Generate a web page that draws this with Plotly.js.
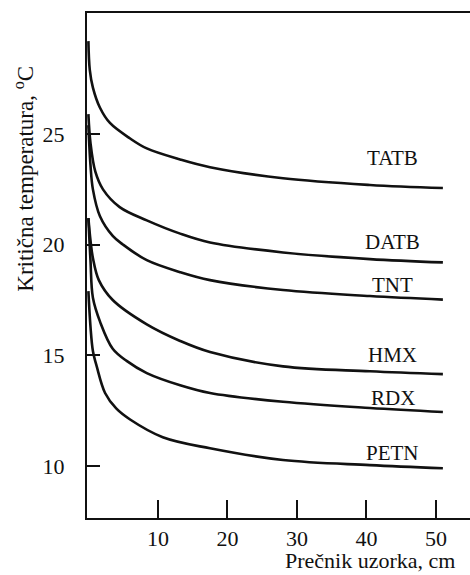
<!DOCTYPE html>
<html>
<head>
<meta charset="utf-8">
<script src="https://cdn.plot.ly/plotly-3.0.1.min.js"></script>
<style>html,body{margin:0;padding:0;background:#fff;}#chart{width:470px;height:575px;}</style>
</head>
<body>
<div id="chart"></div>
<script>
// Data
const names = ["TATB", "DATB", "TNT", "HMX", "RDX", "PETN"];
const xTATB = [0, 0.2, 0.65, 1.65, 3.1, 6, 8.4, 13.2, 17.5, 28, 40.5, 51];
const yTATB = [29.2, 27.9, 27.1, 26.2, 25.5, 24.8, 24.35, 23.85, 23.5, 23.0, 22.7, 22.56];
const xDATB = [0, 0.3, 1, 2.1, 4.5, 8.4, 13.2, 17.5, 28, 40.5, 51];
const yDATB = [25.9, 24.6, 23.3, 22.5, 21.7, 21.1, 20.5, 20.1, 19.65, 19.35, 19.2];
const xTNT = [0, 0.3, 0.65, 1.65, 3.5, 5, 8.4, 13.2, 17.5, 28, 40.5, 51];
const yTNT = [25.4, 23.6, 22.5, 21.3, 20.4, 20.0, 19.3, 18.76, 18.4, 17.95, 17.68, 17.52];
const xHMX = [0, 0.3, 0.65, 1.5, 3.5, 8.4, 13.2, 17.5, 28, 40.5, 51];
const yHMX = [21.2, 20.2, 19.4, 18.4, 17.5, 16.4, 15.65, 15.15, 14.5, 14.28, 14.15];
const xRDX = [0, 0.3, 0.65, 1.7, 3.5, 5.5, 8.4, 13.2, 17.5, 28, 40.5, 51];
const yRDX = [21.2, 19.3, 17.6, 16.5, 15.3, 14.75, 14.2, 13.65, 13.3, 12.9, 12.62, 12.44];
const xPETN = [0, 0.3, 0.65, 1.2, 2.4, 4, 6, 10.7, 17.5, 28, 40.5, 51];
const yPETN = [17.9, 16.3, 15.2, 14.5, 13.3, 12.6, 12.1, 11.3, 10.8, 10.27, 10.04, 9.9];
const xTicks = [10, 20, 30, 40, 50];
const yTicks = [10, 15, 20, 25];

const seriesX = [xTATB, xDATB, xTNT, xHMX, xRDX, xPETN];
const seriesY = [yTATB, yDATB, yTNT, yHMX, yRDX, yPETN];
const labelShift = [30, 20, 15, 19, 14, 15];

const FONT = "Liberation Serif, Times New Roman, serif";
const INK = "#111";

const traces = names.map((n, i) => ({
  type: "scatter", mode: "lines", name: n,
  x: seriesX[i], y: seriesY[i],
  line: {color: INK, width: 2.6, shape: "spline", smoothing: 1},
  hoverinfo: "skip"
}));

const annotations = names.map((n, i) => ({
  text: n, xref: "x", yref: "y",
  x: seriesX[i][seriesX[i].length - 1] - 7.2,
  y: seriesY[i][seriesY[i].length - 1],
  yshift: labelShift[i], showarrow: false,
  xanchor: "center", yanchor: "middle",
  font: {family: FONT, size: 21, color: INK}
}));
annotations.push({
  text: "Prečnik uzorka, cm", xref: "paper", yref: "paper",
  x: 0.966, y: -0.113, xanchor: "right", yanchor: "bottom",
  showarrow: false, font: {family: FONT, size: 22, color: INK}
});
annotations.push({
  text: "Kritična temperatura, <sup>o</sup>C", xref: "paper", yref: "paper",
  x: -0.164, y: 0.90, xanchor: "center", yanchor: "top", textangle: -90,
  showarrow: false, font: {family: FONT, size: 23, color: INK}
});

const layout = {
  width: 470, height: 575,
  margin: {l: 87, r: 0, t: 13, b: 57, pad: 0},
  paper_bgcolor: "#fff", plot_bgcolor: "#fff",
  showlegend: false,
  font: {family: FONT, size: 22, color: INK},
  xaxis: {
    range: [-0.2, 54.9], tickvals: xTicks, ticktext: xTicks.map(String),
    ticks: "inside", ticklen: 18, tickwidth: 2, tickcolor: INK,
    showline: true, linewidth: 2, linecolor: INK, mirror: true,
    showgrid: false, zeroline: false, ticklabelstandoff: 0,
    tickfont: {family: FONT, size: 22, color: INK}
  },
  yaxis: {
    range: [7.65, 30.47], tickvals: yTicks, ticktext: yTicks.map(String),
    ticks: "inside", ticklen: 13, tickwidth: 2, tickcolor: INK,
    showline: true, linewidth: 2, linecolor: INK, mirror: false,
    showgrid: false, zeroline: false, ticklabelstandoff: 16,
    tickfont: {family: FONT, size: 22, color: INK}
  },
  annotations: annotations
};

Plotly.newPlot("chart", traces, layout, {staticPlot: true, displayModeBar: false});
</script>
</body>
</html>
